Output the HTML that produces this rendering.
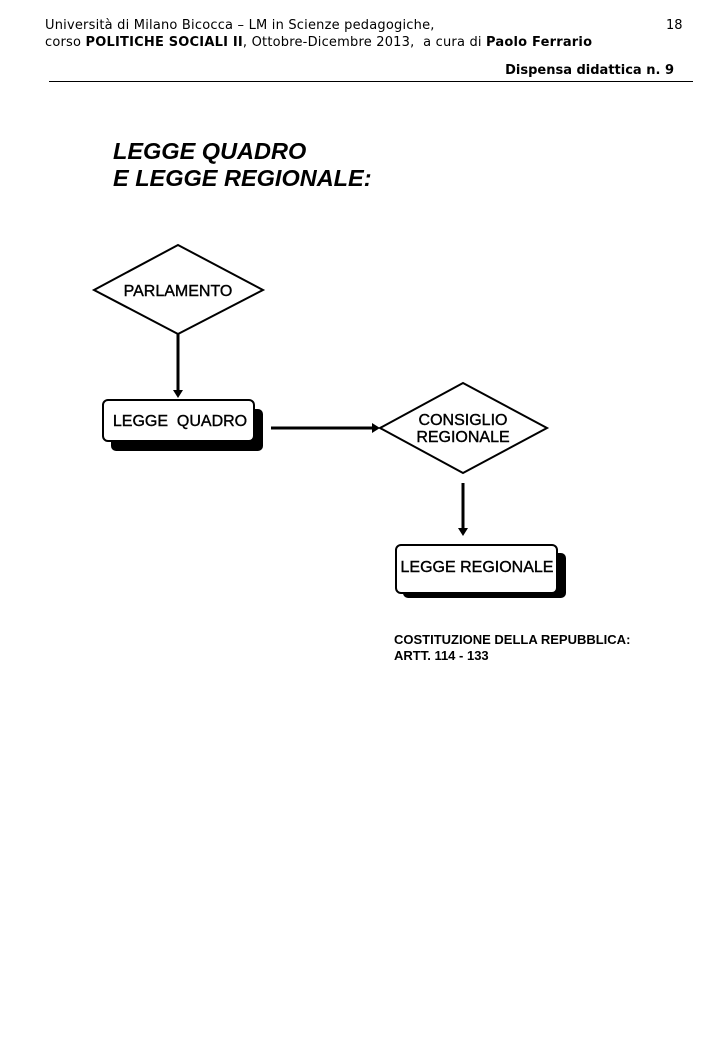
<!DOCTYPE html>
<html><head><meta charset="utf-8"><style>
body{margin:0;width:720px;height:1040px;background:#fff;position:relative;overflow:hidden;font-family:"DejaVu Sans","Liberation Sans",sans-serif;}
.t{position:absolute;white-space:nowrap;color:#000;}
.h{font-size:13px;}
</style></head><body>
<div class="t h" style="left:45px;top:18px;letter-spacing:0.2px;">Università di Milano Bicocca – LM in Scienze pedagogiche,</div>
<div class="t h" style="left:666px;top:18px;">18</div>
<div class="t h" style="left:45px;top:35px;letter-spacing:0.2px;">corso <b>POLITICHE SOCIALI II</b>, Ottobre-Dicembre 2013, &nbsp;a cura di <b>Paolo Ferrario</b></div>
<div class="t h" style="right:46px;top:63px;font-weight:bold;">Dispensa didattica n. 9</div>
<div style="position:absolute;left:49px;top:81px;width:644px;height:1px;background:#000"></div>
<div class="t" style="left:113px;top:138px;font-family:'Liberation Sans',sans-serif;font-size:23.5px;font-style:italic;font-weight:bold;line-height:27px;">LEGGE QUADRO<br>E LEGGE REGIONALE:</div>
<svg width="720" height="1040" style="position:absolute;left:0;top:0" font-family="Liberation Sans, sans-serif" font-size="16">
<polygon points="178,245 263,290 178,334 94,290" fill="#fff" stroke="#000" stroke-width="2"/>
<text x="178" y="296" text-anchor="middle" stroke="#000" stroke-width="0.4">PARLAMENTO</text>
<line x1="178" y1="334" x2="178" y2="392" stroke="#000" stroke-width="3"/>
<polygon points="173,390 183,390 178,398" fill="#000"/>
<rect x="111" y="409" width="152" height="42" rx="5" fill="#000"/>
<rect x="103" y="400" width="151" height="41" rx="5" fill="#fff" stroke="#000" stroke-width="2"/>
<text x="180" y="426" text-anchor="middle" stroke="#000" stroke-width="0.4" xml:space="preserve">LEGGE  QUADRO</text>
<line x1="271" y1="428" x2="374" y2="428" stroke="#000" stroke-width="3"/>
<polygon points="372,423 380,428 372,433" fill="#000"/>
<polygon points="463,383 547,428 463,473 380,428" fill="#fff" stroke="#000" stroke-width="2"/>
<text x="463" y="425" text-anchor="middle" stroke="#000" stroke-width="0.4">CONSIGLIO</text>
<text x="463" y="442" text-anchor="middle" stroke="#000" stroke-width="0.4">REGIONALE</text>
<line x1="463" y1="483" x2="463" y2="530" stroke="#000" stroke-width="3"/>
<polygon points="458,528 468,528 463,536" fill="#000"/>
<rect x="403" y="553" width="163" height="45" rx="5" fill="#000"/>
<rect x="396" y="545" width="161" height="48" rx="5" fill="#fff" stroke="#000" stroke-width="2"/>
<text x="477" y="572" text-anchor="middle" stroke="#000" stroke-width="0.4">LEGGE REGIONALE</text>
<text x="394" y="644" font-size="13" font-weight="bold">COSTITUZIONE DELLA REPUBBLICA:</text>
<text x="394" y="660" font-size="13" font-weight="bold">ARTT. 114 - 133</text>
</svg>
</body></html>
